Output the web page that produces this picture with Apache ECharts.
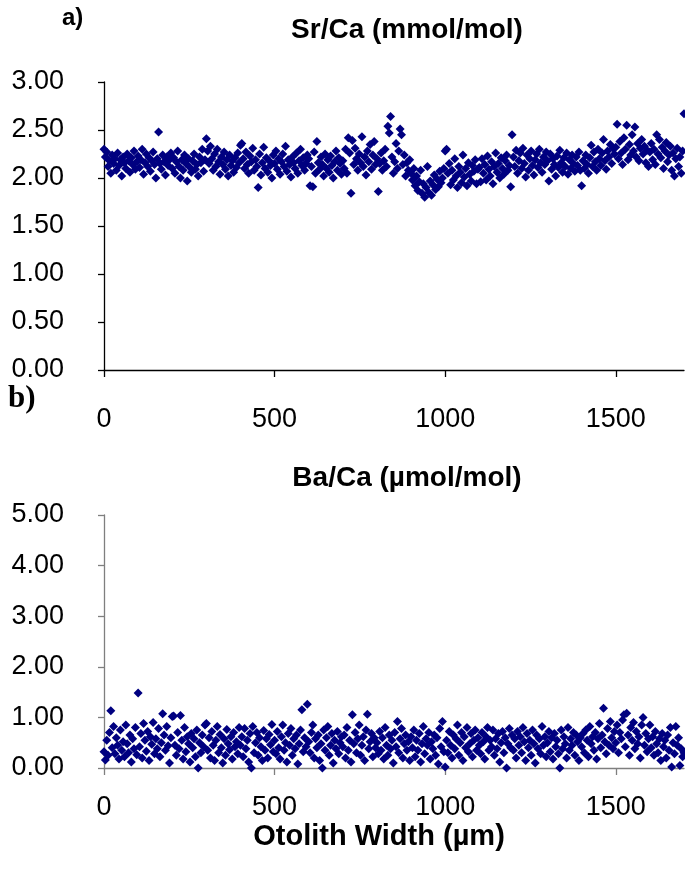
<!DOCTYPE html>
<html>
<head>
<meta charset="utf-8">
<script src="https://cdn.jsdelivr.net/npm/echarts@6/dist/echarts.min.js"></script>
<style>html,body{margin:0;padding:0;background:#fff}#c{width:685px;height:875px}</style>
</head>
<body>
<div id="c"></div>
<script>
// Sampling grid along the otolith transect (µm)
const stepUm = 4;
const lastX = 1700;
const xTicks = [0, 500, 1000, 1500];

// Sr/Ca (mmol/mol), one row per 100 µm (25 samples each), plus final sample at 1700 µm
const srCa = [
2.30,2.22,2.27,2.12,2.18,2.05,2.24,2.15,2.20,2.08,2.26,2.13,2.19,2.02,2.22,2.16,2.10,2.25,2.18,2.06,2.21,2.14,2.28,2.09,2.17,
2.23,2.11,2.19,2.30,2.04,2.16,2.25,2.12,2.21,2.07,2.18,2.27,2.14,2.00,2.20,2.48,2.15,2.09,2.24,2.17,2.03,2.22,2.13,2.19,2.26,
2.10,2.21,2.05,2.17,2.28,2.12,2.00,2.19,2.08,2.24,2.15,1.97,2.20,2.11,2.06,2.18,2.25,2.09,2.14,2.02,2.22,2.16,2.30,2.07,2.19,
2.41,2.28,2.15,2.33,2.20,2.08,2.25,2.12,2.30,2.17,2.04,2.22,2.14,2.27,2.09,2.19,2.02,2.24,2.13,2.18,2.06,2.21,2.11,2.26,2.16,
2.34,2.36,2.20,2.10,2.27,2.14,2.05,2.23,2.17,2.31,2.08,2.19,2.12,1.90,2.25,2.03,2.16,2.32,2.10,2.21,2.06,2.18,2.13,2.00,2.24,
2.15,2.28,2.09,2.20,2.04,2.17,2.25,2.12,2.33,2.07,2.19,2.14,2.01,2.22,2.16,2.10,2.26,2.05,2.18,2.30,2.13,2.21,2.08,2.15,2.24,
2.20,1.92,2.12,1.91,2.27,2.05,2.38,2.16,2.09,2.22,2.14,2.02,2.25,2.10,2.19,2.06,2.23,2.13,2.00,2.17,2.28,2.08,2.21,2.15,2.04,
2.18,2.10,2.30,2.05,2.42,2.26,1.84,2.39,2.14,2.31,2.20,2.08,2.25,2.16,2.43,2.12,2.22,2.03,2.28,2.17,2.35,2.09,2.24,2.38,2.14,
2.20,1.86,2.15,2.26,2.08,2.18,2.30,2.12,2.54,2.47,2.64,2.22,2.05,2.17,2.36,2.10,2.28,2.51,2.45,2.14,2.24,2.02,2.16,2.08,2.19,
2.05,1.98,2.10,1.92,2.02,1.87,1.96,2.08,1.84,1.94,1.80,1.90,2.12,1.85,1.97,1.82,1.93,2.03,1.88,1.99,1.91,2.07,1.95,2.00,2.10,
2.28,2.30,2.05,2.15,1.93,2.08,1.98,2.20,2.02,1.90,2.12,2.06,1.95,2.24,2.01,2.10,1.92,2.16,2.04,1.97,2.13,2.07,2.19,1.94,2.09,
2.11,1.96,2.20,2.05,2.14,1.98,2.23,2.09,2.02,2.17,1.94,2.12,2.26,2.06,2.15,2.00,2.21,2.10,2.04,2.18,2.24,2.08,2.13,1.91,2.45,
2.22,2.12,2.29,2.05,2.18,2.26,2.10,2.31,2.15,2.01,2.24,2.08,2.20,2.28,2.13,2.03,2.19,2.25,2.11,2.30,2.16,2.06,2.22,2.14,2.27,
2.18,1.97,2.25,2.09,2.20,2.14,2.02,2.23,2.11,2.29,2.16,2.06,2.21,2.12,2.26,2.04,2.19,2.10,2.24,2.15,2.07,2.22,2.13,2.27,2.08,
1.92,2.18,2.10,2.24,2.14,2.05,2.21,2.34,2.12,2.27,2.17,2.08,2.30,2.20,2.13,2.26,2.40,2.18,2.09,2.28,2.22,2.35,2.15,2.31,2.25,
2.32,2.56,2.20,2.38,2.26,2.14,2.42,2.30,2.55,2.19,2.35,2.24,2.45,2.28,2.53,2.22,2.36,2.18,2.31,2.40,2.25,2.33,2.16,2.29,2.12,
2.27,2.36,2.19,2.30,2.14,2.45,2.25,2.40,2.21,2.32,2.10,2.28,2.37,2.17,2.24,2.33,2.08,2.26,2.02,2.20,2.31,2.12,2.22,2.05,2.28
];
const srCaLast = 2.67;

// Ba/Ca (µmol/mol), same sampling grid
const baCa = [
0.32,0.16,0.55,0.25,0.70,1.13,0.40,0.82,0.28,0.60,0.45,0.18,0.75,0.35,0.52,0.22,0.85,0.48,0.30,0.65,0.12,0.58,0.38,0.80,0.26,
1.48,0.42,0.68,0.20,0.88,0.55,0.33,0.72,0.15,0.62,0.47,0.90,0.28,0.58,0.38,0.78,0.22,0.50,1.07,0.65,0.35,0.82,0.44,0.10,0.60,
1.02,1.03,0.45,0.25,0.70,0.38,1.04,0.55,0.18,0.80,0.32,0.62,0.48,0.12,0.68,0.40,0.58,0.22,0.75,0.00,0.50,0.30,0.65,0.42,0.85,
0.88,0.35,0.60,0.20,0.72,0.45,0.15,0.55,0.82,0.30,0.66,0.40,0.10,0.58,0.25,0.76,0.48,0.36,0.62,0.18,0.70,0.42,0.52,0.28,0.80,
0.45,0.62,0.22,0.78,0.38,0.55,0.12,0.68,0.00,0.82,0.30,0.50,0.70,0.25,0.60,0.42,0.15,0.74,0.35,0.58,0.20,0.66,0.46,0.86,0.32,
0.55,0.28,0.72,0.40,0.18,0.62,0.85,0.35,0.50,0.12,0.68,0.45,0.78,0.25,0.58,0.38,0.65,0.08,0.48,0.75,1.15,0.32,0.60,0.42,1.26,
0.52,0.30,0.70,0.85,0.20,0.58,0.40,0.65,0.15,0.48,0.00,0.75,0.35,0.60,0.82,0.25,0.45,0.68,0.10,0.55,0.38,0.72,0.28,0.50,0.62,
0.42,0.65,0.20,0.80,0.35,0.55,0.12,1.05,0.48,0.70,0.30,0.58,0.85,0.25,0.45,0.62,0.15,0.75,1.06,0.38,0.52,0.68,0.22,0.60,0.40,
0.50,0.28,0.72,0.35,0.60,0.18,0.80,0.45,0.25,0.65,0.38,0.55,0.10,0.70,0.42,0.92,0.30,0.58,0.78,0.20,0.48,0.65,0.35,0.52,0.15,
0.62,0.40,0.75,0.22,0.55,0.35,0.68,0.12,0.48,0.82,0.28,0.58,0.45,0.70,0.18,0.52,0.38,0.65,0.25,0.60,0.08,0.78,0.42,0.92,0.32,
0.02,0.55,0.30,0.72,0.45,0.20,0.65,0.38,0.58,0.85,0.25,0.50,0.70,0.15,0.62,0.40,0.80,0.32,0.48,0.68,0.22,0.55,0.75,0.35,0.60,
0.45,0.28,0.70,0.52,0.18,0.62,0.80,0.35,0.55,0.42,0.75,0.25,0.58,0.38,0.68,0.12,0.50,0.72,0.30,0.60,0.00,0.48,0.78,0.40,0.65,
0.35,0.58,0.20,0.72,0.45,0.62,0.30,0.80,0.52,0.15,0.68,0.40,0.55,0.25,0.75,0.48,0.10,0.65,0.38,0.58,0.28,0.82,0.45,0.62,0.22,
0.50,0.72,0.32,0.60,0.18,0.68,0.42,0.55,0.28,0.00,0.75,0.38,0.62,0.48,0.20,0.80,0.35,0.58,0.45,0.70,0.25,0.65,0.52,0.15,0.60,
0.42,0.68,0.30,0.75,0.55,0.22,0.82,0.48,0.62,0.35,0.70,0.18,0.58,0.88,0.40,0.65,1.18,0.52,0.28,0.78,0.45,0.92,0.60,0.38,0.72,
0.50,0.85,0.30,0.70,0.58,0.95,1.05,0.42,1.08,0.65,0.25,0.80,0.55,0.90,0.38,0.72,0.48,0.62,0.20,0.85,1.00,0.45,0.68,0.32,0.58,
0.85,0.40,0.62,0.25,0.72,0.48,0.30,0.58,0.15,0.68,0.42,0.55,0.20,0.65,0.35,0.80,0.02,0.50,0.28,0.82,0.45,0.60,0.05,0.38,0.22
];
const baCaLast = 0.30;

const panelTitles = ['Sr/Ca (mmol/mol)', 'Ba/Ca (µmol/mol)'];
const xAxisName = 'Otolith Width (µm)';

function toPairs(vals, last) {
  const out = vals.map((v, i) => [i * stepUm, v]);
  out.push([lastX, last]);
  return out;
}

const FONT = '"Liberation Sans", Arial, sans-serif';
const NAVY = '#000080';

function xAxisCfg(gi, color, margin) {
  return {
    type: 'value', gridIndex: gi, position: 'bottom', min: 0, max: 1700, interval: 500,
    axisLine: { show: true, onZero: false, lineStyle: { color: color, width: 1.3 } },
    axisTick: { show: true, length: 7, lineStyle: { color: color, width: 1.3 } },
    splitLine: { show: false },
    axisLabel: { fontFamily: FONT, fontSize: 27, color: '#000', margin: margin, showMaxLabel: false,
                 formatter: v => (xTicks.indexOf(v) >= 0 ? String(v) : '') }
  };
}
function yAxisCfg(gi, max, interval, color) {
  return {
    type: 'value', gridIndex: gi, position: 'left', min: 0, max: max, interval: interval,
    axisLine: { show: true, onZero: false, lineStyle: { color: color, width: 1.3 } },
    axisTick: { show: true, length: 6, lineStyle: { color: color, width: 1.3 } },
    splitLine: { show: false },
    axisLabel: { fontFamily: FONT, fontSize: 27, color: '#000', margin: 40, formatter: v => v.toFixed(2) }
  };
}

const chart = echarts.init(document.getElementById('c'), null, { renderer: 'canvas' });
chart.setOption({
  animation: false,
  backgroundColor: '#fff',
  title: [
    { text: panelTitles[0], left: 402, top: 11, textAlign: 'center', textStyle: { fontFamily: FONT, fontWeight: 'bold', fontSize: 28, color: '#000' } },
    { text: panelTitles[1], left: 402, top: 459, textAlign: 'center', textStyle: { fontFamily: FONT, fontWeight: 'bold', fontSize: 28, color: '#000' } },
    { text: xAxisName, left: 374, top: 817, textAlign: 'center', textStyle: { fontFamily: FONT, fontWeight: 'bold', fontSize: 29, color: '#000' } }
  ],
  graphic: [
    { type: 'text', left: 62, top: 6, style: { text: 'a)', font: 'bold 24px "Liberation Sans", Arial, sans-serif', fill: '#000' } },
    { type: 'text', left: 8, top: 383, style: { text: 'b)', font: 'bold 31px "Liberation Serif", "Times New Roman", serif', fill: '#000' } }
  ],
  grid: [
    { left: 104, top: 82, width: 580, height: 288 },
    { left: 104, top: 515, width: 580, height: 253 }
  ],
  xAxis: [ xAxisCfg(0, '#000', 36), xAxisCfg(1, '#7f7f7f', 26) ],
  yAxis: [ yAxisCfg(0, 3, 0.5, '#000'), yAxisCfg(1, 5, 1, '#7f7f7f') ],
  series: [
    { type: 'scatter', xAxisIndex: 0, yAxisIndex: 0, symbol: 'diamond', symbolSize: 9,
      itemStyle: { color: NAVY, opacity: 1 }, data: toPairs(srCa, srCaLast), clip: false },
    { type: 'scatter', xAxisIndex: 1, yAxisIndex: 1, symbol: 'diamond', symbolSize: 9,
      itemStyle: { color: NAVY, opacity: 1 }, data: toPairs(baCa, baCaLast), clip: false }
  ]
});
</script>
</body>
</html>
